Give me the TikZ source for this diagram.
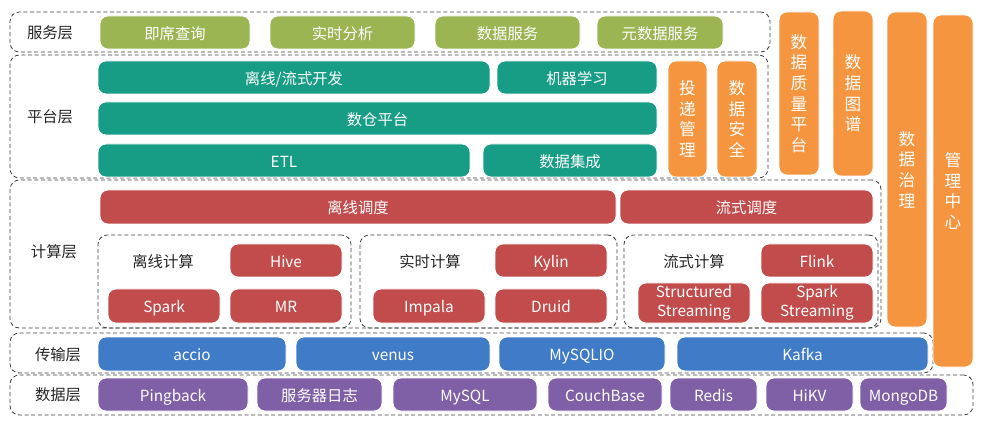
\documentclass[tikz,border=0pt]{standalone}
\usepackage{fontspec}
\setmainfont{Noto Sans CJK SC}
\begin{document}
\begin{tikzpicture}[x=0.75pt,y=-0.75pt,
  base/.style={rounded corners=6pt, inner sep=0pt, align=center, text=white,
    draw=white, line width=0.6pt, font=\fontsize{11.5}{12.5}\selectfont},
  one/.style={text height=10.4pt, text depth=0.6pt},
  svc/.style={base, one, fill=svcgreen},
  plat/.style={base, one, fill=platteal},
  comp/.style={base, one, fill=compred},
  comptwo/.style={base, fill=compred, font=\fontsize{11.5}{14}\selectfont},
  trans/.style={base, one, fill=transblue},
  dat/.style={base, one, fill=datpurple},
  gov/.style={base, fill=govorange, font=\fontsize{12.5}{15.5}\selectfont},
  layer/.style={draw=black!75, dash pattern=on 3pt off 2pt, line width=0.6pt,
    rounded corners=7pt, inner sep=0pt},
  lbl/.style={text=black!85, font=\fontsize{11.5}{12.5}\selectfont, inner sep=0pt}]
\definecolor{svcgreen}{HTML}{9AB552}
\definecolor{platteal}{HTML}{179C85}
\definecolor{compred}{HTML}{C24B4B}
\definecolor{transblue}{HTML}{3F7BC7}
\definecolor{datpurple}{HTML}{7F5FA5}
\definecolor{govorange}{HTML}{F5953F}
\newcommand\bx[7]{%
  \pgfmathsetmacro\cx{(#2+#4)/2}\pgfmathsetmacro\cy{(#3+#5)/2}%
  \pgfmathsetmacro\ww{(#4-#2)*0.75}\pgfmathsetmacro\hh{(#5-#3)*0.75}%
  \node[#6, minimum width=\ww pt, minimum height=\hh pt] (#1) at (\cx,\cy) {#7};}
\fill[white] (0,0) rectangle (984,427);
\useasboundingbox (0,0) rectangle (984,427);
% layers (dashed)
\bx{Lsvc}{10}{12}{770}{52}{layer}{}
\bx{Lplat}{10}{55}{768}{178}{layer}{}
\bx{Lcomp}{10}{180}{881}{328}{layer}{}
\bx{Ltrans}{10}{333}{933}{373}{layer}{}
\bx{Ldat}{10}{375}{973}{415}{layer}{}
\bx{Soff}{98}{235}{351}{328}{layer}{}
\bx{Srt}{360}{235}{617}{328}{layer}{}
\bx{Sst}{624}{235}{878}{328}{layer}{}
% layer labels
\node[lbl] (tsvc) at (50,33) {服务层};
\node[lbl] (tplat) at (50,117) {平台层};
\node[lbl] (tcomp) at (54,252) {计算层};
\node[lbl] (ttrans) at (58,355) {传输层};
\node[lbl] (tdat) at (58,395) {数据层};
% service
\bx{s1}{100}{16}{250}{49}{svc}{即席查询}
\bx{s2}{270}{16}{415}{49}{svc}{实时分析}
\bx{s3}{435}{16}{580}{49}{svc}{数据服务}
\bx{s4}{597}{16}{723}{49}{svc}{元数据服务}
% platform
\bx{p1}{98}{61}{490}{94}{plat}{离线/流式开发}
\bx{p2}{497}{61}{657}{94}{plat}{机器学习}
\bx{p3}{98}{102}{657}{135}{plat}{数仓平台}
\bx{p4}{98}{144}{470}{177}{plat}{ETL}
\bx{p5}{483}{144}{657}{177}{plat}{数据集成}
\bx{g1}{668}{61}{707}{177}{gov}{投\\递\\管\\理}
\bx{g2}{717}{61}{757}{177}{gov}{数\\据\\安\\全}
% governance
\bx{g3}{779}{12}{819}{175}{gov}{数\\据\\质\\量\\平\\台}
\bx{g4}{833}{11}{873}{176}{gov}{数\\据\\图\\谱}
\bx{g5}{887}{12}{927}{327}{gov}{数\\据\\治\\理}
\bx{g6}{933}{15}{973}{367}{gov}{管\\理\\中\\心}
% compute
\bx{c1}{100}{190}{616}{224}{comp}{离线调度}
\bx{c2}{620}{190}{873}{224}{comp}{流式调度}
\node[lbl] (toff) at (163,262) {离线计算};
\bx{hive}{230}{244}{342}{277}{comp}{Hive}
\bx{spark}{108}{289}{220}{323}{comp}{Spark}
\bx{mr}{230}{289}{342}{323}{comp}{MR}
\node[lbl] (trt) at (430,262) {实时计算};
\bx{kylin}{495}{244}{607}{277}{comp}{Kylin}
\bx{impala}{373}{289}{485}{323}{comp}{Impala}
\bx{druid}{495}{289}{607}{323}{comp}{Druid}
\node[lbl] (tst) at (694,262) {流式计算};
\bx{flink}{761}{244}{873}{277}{comp}{Flink}
\bx{sst}{638}{283}{750}{323}{comptwo}{Structured\\Streaming}
\bx{sps}{761}{283}{873}{323}{comptwo}{Spark\\Streaming}
% transport
\bx{t1}{98}{337}{286}{371}{trans}{accio}
\bx{t2}{296}{337}{490}{371}{trans}{venus}
\bx{t3}{499}{337}{665}{371}{trans}{MySQLIO}
\bx{t4}{677}{337}{928}{371}{trans}{Kafka}
% data
\bx{d1}{98}{378}{248}{411}{dat}{Pingback}
\bx{d2}{257}{378}{382}{411}{dat}{服务器日志}
\bx{d3}{393}{378}{537}{411}{dat}{MySQL}
\bx{d4}{548}{378}{662}{411}{dat}{CouchBase}
\bx{d5}{670}{378}{757}{411}{dat}{Redis}
\bx{d6}{766}{378}{853}{411}{dat}{HiKV}
\bx{d7}{860}{378}{947}{411}{dat}{MongoDB}
\end{tikzpicture}
\end{document}
